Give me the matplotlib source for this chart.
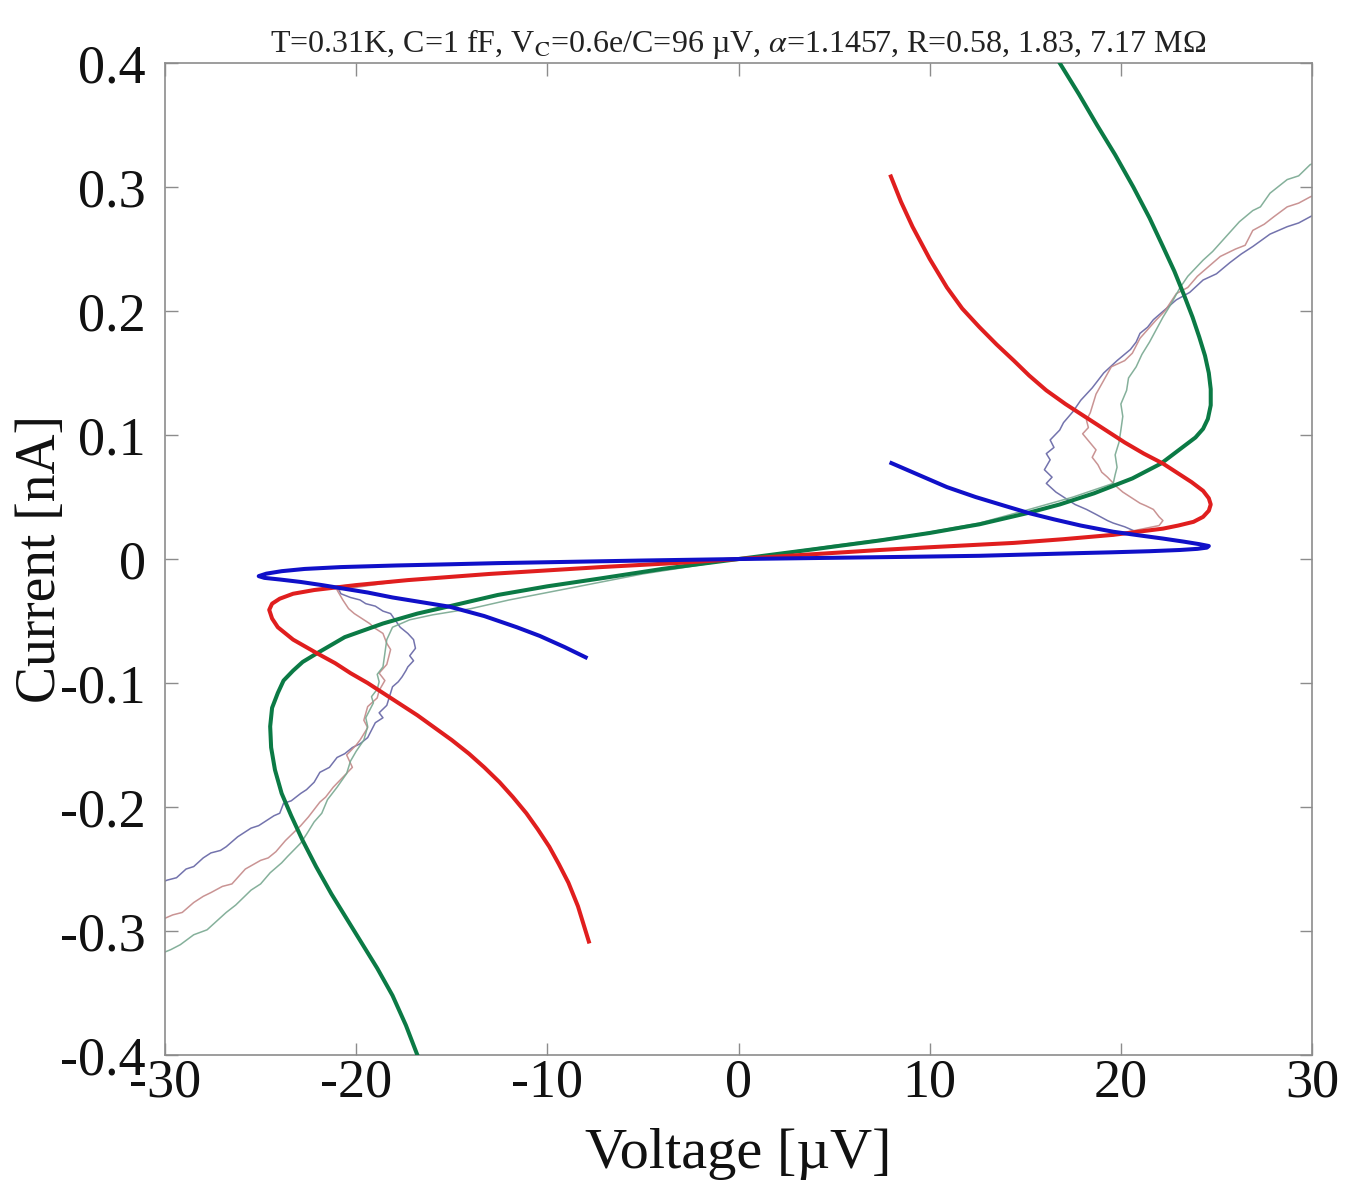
import matplotlib
matplotlib.use("Agg")
import matplotlib.pyplot as plt

plt.rcParams['font.family'] = ['Liberation Serif', 'DejaVu Serif']
plt.rcParams['mathtext.fontset'] = 'stix'

title_text = 'T=0.31K, C=1 fF, V$_{\\rm C}$=0.6e/C=96 µV, $\\alpha$=1.1457, R=0.58, 1.83, 7.17 MΩ'
x_label = 'Voltage [µV]'
y_label = 'Current [nA]'
x_ticks = [-30, -20, -10, 0, 10, 20, 30]
x_tick_labels = ['-30', '-20', '-10', '0', '10', '20', '30']
y_ticks = [-0.4, -0.3, -0.2, -0.1, 0, 0.1, 0.2, 0.3, 0.4]
y_tick_labels = ['-0.4', '-0.3', '-0.2', '-0.1', '0', '0.1', '0.2', '0.3', '0.4']

# ---- thick theory curves (V in µV, I in nA) ----
blue_V = [7.9, 9.4, 10.9, 12.4, 13.9, 15.2, 16.5, 17.9, 19.6, 21.0, 22.2, 23.3, 24.1, 24.6, 24.5,
          24.0, 23.1, 21.5, 19.5, 17.9, 15.0, 12.6, 9.0, 5.0, 0.0, -5.0, -9.3, -12.6, -15.0, -17.9,
          -20.8, -22.7, -23.9, -24.7, -25.1, -24.8, -24.0, -22.9, -21.8, -20.8, -19.4, -18.1,
          -16.7, -15.1, -13.3, -11.6, -10.4, -9.1, -7.9]
blue_I = [0.078, 0.068, 0.058, 0.050, 0.043, 0.037, 0.032, 0.027, 0.022, 0.019, 0.0165, 0.014,
          0.012, 0.0105, 0.0092, 0.0082, 0.0073, 0.0063, 0.0054, 0.0048, 0.0036, 0.0026, 0.0018,
          0.001, 0.0, -0.0012, -0.0024, -0.0033, -0.0042, -0.0052, -0.0065, -0.008, -0.0098,
          -0.0118, -0.0138, -0.0152, -0.0165, -0.0185, -0.021, -0.0235, -0.027, -0.031, -0.0345,
          -0.0385, -0.046, -0.055, -0.062, -0.071, -0.080]

red_V = [7.93, 8.5, 9.1, 10.0, 10.9, 11.7, 12.6, 13.5, 14.4, 15.2, 16.1, 17.1, 18.2, 19.2, 20.2,
         21.2, 22.2, 23.0, 23.7, 24.3, 24.6, 24.7, 24.6, 24.3, 23.8, 23.0, 22.2, 19.6, 17.0, 14.4,
         10.0, 7.4, 3.0, 0.0, -3.0, -7.2, -9.3, -13.0, -17.3, -20.0, -22.2, -23.3, -24.0, -24.4,
         -24.55, -24.4, -24.1, -23.3, -22.05, -21.1, -20.3, -19.4, -18.6, -17.7, -16.8, -15.9,
         -15.0, -14.1, -13.3, -12.5, -11.8, -11.1, -10.5, -9.9, -9.4, -8.9, -8.4, -7.8]
red_I = [0.31, 0.288, 0.268, 0.242, 0.219, 0.202, 0.187, 0.173, 0.160, 0.148, 0.136, 0.125, 0.114,
         0.104, 0.094, 0.085, 0.077, 0.069, 0.062, 0.055, 0.049, 0.044, 0.039, 0.034, 0.030, 0.027,
         0.0245, 0.0195, 0.016, 0.013, 0.0095, 0.0073, 0.003, 0.0, -0.003, -0.0065, -0.0085,
         -0.012, -0.017, -0.021, -0.025, -0.028, -0.032, -0.036, -0.041, -0.048, -0.055, -0.065,
         -0.076, -0.084, -0.092, -0.100, -0.108, -0.117, -0.126, -0.136, -0.146, -0.157, -0.168,
         -0.180, -0.192, -0.205, -0.218, -0.232, -0.246, -0.261, -0.280, -0.310]

green_V = [16.4, 16.8, 17.8, 18.75, 19.7, 20.65, 21.5, 22.2, 22.8, 23.3, 23.75, 24.1, 24.4, 24.6,
           24.7, 24.7, 24.55, 24.3, 23.9, 23.3, 22.1, 20.6, 18.6, 16.8, 15.1, 12.6, 10.0, 7.4, 4.0,
           0.0, -4.0, -7.2, -10.0, -12.6, -15.1, -16.8, -18.6, -20.6, -22.05, -22.8, -23.3, -23.8,
           -24.1, -24.4, -24.5, -24.45, -24.25, -23.9, -23.4, -22.8, -22.1, -21.3, -20.5, -19.7,
           -18.9, -18.1, -17.4, -16.8, -16.5]
green_I = [0.41, 0.400, 0.375, 0.350, 0.326, 0.300, 0.275, 0.252, 0.232, 0.213, 0.195, 0.179,
           0.164, 0.150, 0.137, 0.124, 0.113, 0.105, 0.098, 0.091, 0.077, 0.065, 0.053, 0.044,
           0.037, 0.028, 0.021, 0.015, 0.008, 0.0, -0.008, -0.0156, -0.022, -0.029, -0.038,
           -0.044, -0.052, -0.063, -0.076, -0.083, -0.090, -0.098, -0.108, -0.120, -0.135,
           -0.152, -0.170, -0.189, -0.207, -0.227, -0.248, -0.270, -0.290, -0.310, -0.330,
           -0.352, -0.376, -0.400, -0.41]

# ---- thin measured traces ----
blue_meas_V = [-30.5, -29.9, -29.4, -28.9, -28.5, -28.0, -27.6, -27.1, -26.8, -26.2, -25.5, -25.1,
               -24.7, -24.3, -24.0, -23.8, -23.4, -22.9, -22.6, -22.2, -21.9, -21.4, -21.0, -20.6,
               -20.2, -19.8, -19.4, -19.2, -19.0, -18.6, -18.8, -18.4, -18.1, -17.8, -17.6, -17.4,
               -17.3, -17.0, -17.2, -16.9, -17.0, -17.3, -17.7, -18.2, -18.6, -19.0, -19.5, -19.8,
               -20.3, -20.8, -21.0, -17.3, -13.0, -7.2, 0.0, 7.4, 14.4, 19.6, 20.8, 20.2, 19.6,
               19.3, 18.7, 18.2, 17.6, 17.0, 16.6, 16.1, 16.4, 16.0, 16.3, 16.1, 16.5, 16.3, 16.8,
               17.0, 17.5, 17.9, 18.5, 19.1, 19.8, 20.5, 20.8, 21.0, 21.4, 21.7, 22.3, 22.9, 23.6,
               24.3, 25.0, 25.7, 26.3, 26.9, 27.8, 28.7, 29.3, 29.9, 30.5]
blue_meas_I = [-0.263, -0.259, -0.257, -0.250, -0.248, -0.241, -0.237, -0.235, -0.232, -0.224,
               -0.217, -0.215, -0.211, -0.207, -0.205, -0.197, -0.195, -0.189, -0.186, -0.180,
               -0.172, -0.168, -0.160, -0.157, -0.152, -0.149, -0.144, -0.138, -0.132, -0.128,
               -0.124, -0.118, -0.103, -0.099, -0.095, -0.090, -0.087, -0.082, -0.078, -0.072,
               -0.065, -0.060, -0.055, -0.044, -0.042, -0.038, -0.036, -0.033, -0.031, -0.028,
               -0.022, -0.017, -0.012, -0.0065, 0.0, 0.0073, 0.013, 0.019, 0.022, 0.026, 0.029,
               0.031, 0.036, 0.040, 0.044, 0.050, 0.054, 0.061, 0.066, 0.072, 0.080, 0.085, 0.090,
               0.096, 0.104, 0.110, 0.119, 0.128, 0.138, 0.150, 0.160, 0.169, 0.175, 0.182, 0.187,
               0.193, 0.201, 0.209, 0.215, 0.225, 0.230, 0.239, 0.246, 0.252, 0.262, 0.268, 0.271,
               0.276, 0.281]

red_meas_V = [-30.5, -29.6, -29.1, -28.5, -28.0, -27.6, -27.0, -26.5, -25.8, -25.0, -24.6, -24.2,
              -23.7, -23.3, -22.9, -22.5, -21.9, -21.6, -21.2, -20.7, -20.2, -20.5, -20.0, -19.8,
              -19.4, -19.6, -19.4, -18.9, -18.8, -18.5, -18.8, -18.4, -18.2, -18.4, -18.6, -19.0,
              -19.3, -19.8, -20.1, -20.4, -20.7, -21.0, -17.3, -13.0, -7.2, 0.0, 7.4, 14.4, 19.6,
              22.0, 22.2, 22.0, 21.7, 21.3, 21.0, 20.5, 20.1, 19.8, 19.3, 19.0, 18.8, 18.5, 18.7,
              18.0, 18.3, 18.2, 18.4, 18.5, 18.7, 19.1, 19.5, 20.2, 20.6, 21.0, 21.8, 22.3, 22.9,
              23.5, 24.0, 24.6, 25.2, 26.0, 26.5, 26.9, 27.5, 28.0, 28.7, 29.3, 29.9, 30.5]
red_meas_I = [-0.293, -0.287, -0.285, -0.277, -0.272, -0.269, -0.264, -0.262, -0.250, -0.243,
              -0.241, -0.236, -0.227, -0.221, -0.215, -0.208, -0.196, -0.192, -0.184, -0.176,
              -0.168, -0.158, -0.150, -0.146, -0.136, -0.130, -0.119, -0.112, -0.106, -0.098,
              -0.092, -0.085, -0.073, -0.068, -0.060, -0.056, -0.052, -0.047, -0.044, -0.040,
              -0.033, -0.025, -0.017, -0.012, -0.0065, 0.0, 0.0073, 0.013, 0.0195, 0.027, 0.031,
              0.034, 0.040, 0.043, 0.045, 0.050, 0.054, 0.058, 0.066, 0.070, 0.076, 0.082, 0.088,
              0.101, 0.106, 0.112, 0.118, 0.123, 0.133, 0.144, 0.155, 0.160, 0.166, 0.178, 0.192,
              0.200, 0.214, 0.219, 0.228, 0.236, 0.244, 0.250, 0.253, 0.265, 0.270, 0.276, 0.284,
              0.287, 0.292, 0.296]

green_meas_V = [-30.5, -29.7, -29.2, -28.5, -27.8, -26.8, -26.3, -25.5, -25.0, -24.5, -23.9, -23.6,
                -22.9, -22.6, -22.2, -21.8, -21.5, -21.0, -20.5, -20.3, -20.0, -19.6, -19.4, -19.5,
                -19.3, -19.1, -19.2, -18.9, -18.8, -18.9, -18.6, -18.4, -18.1, -17.2, -16.0, -14.0,
                -12.0, -9.0, -5.0, 0.0, 5.0, 9.0, 12.6, 15.2, 17.5, 19.6, 19.7, 19.8, 19.7, 19.9,
                20.0, 20.1, 20.0, 20.3, 20.4, 20.8, 21.1, 21.5, 22.2, 22.6, 23.1, 23.5, 24.3, 24.8,
                25.5, 26.2, 26.9, 27.3, 27.8, 28.7, 29.3, 29.9, 30.5]
green_meas_I = [-0.320, -0.315, -0.311, -0.303, -0.299, -0.285, -0.279, -0.267, -0.262, -0.253,
                -0.245, -0.240, -0.229, -0.222, -0.212, -0.205, -0.194, -0.184, -0.173, -0.163,
                -0.155, -0.146, -0.135, -0.128, -0.122, -0.116, -0.111, -0.105, -0.099, -0.093,
                -0.087, -0.065, -0.055, -0.049, -0.045, -0.040, -0.033, -0.024, -0.012, 0.0, 0.011,
                0.019, 0.029, 0.040, 0.050, 0.061, 0.068, 0.074, 0.084, 0.094, 0.104, 0.115, 0.125,
                0.136, 0.146, 0.155, 0.165, 0.175, 0.195, 0.205, 0.219, 0.228, 0.241, 0.248, 0.260,
                0.272, 0.281, 0.284, 0.295, 0.306, 0.309, 0.318, 0.322]

fig = plt.figure(figsize=(13.45, 11.82), dpi=100)
ax = fig.add_axes([0.1227, 0.1074, 0.8528, 0.8393])

thin_lw = 1.1
ax.plot(blue_meas_V, blue_meas_I, color='#6464a4', lw=thin_lw, alpha=0.9, zorder=2)
ax.plot(red_meas_V, red_meas_I, color='#c48888', lw=thin_lw, alpha=0.9, zorder=2)
ax.plot(green_meas_V, green_meas_I, color='#78a890', lw=thin_lw, alpha=0.9, zorder=2)

thick_lw = 2.9
ax.plot(green_V, green_I, color='#0b7a45', lw=thick_lw, zorder=3, solid_capstyle='butt',
        solid_joinstyle='round')
ax.plot(red_V, red_I, color='#e01e1e', lw=thick_lw, zorder=4, solid_capstyle='butt',
        solid_joinstyle='round')
ax.plot(blue_V, blue_I, color='#1010c8', lw=thick_lw, zorder=5, solid_capstyle='butt',
        solid_joinstyle='round')

ax.set_xlim(-30, 30)
ax.set_ylim(-0.4, 0.4)
ax.set_xticks(x_ticks)
ax.set_xticklabels(x_tick_labels)
ax.set_yticks(y_ticks)
ax.set_yticklabels(y_tick_labels)

for sp in ax.spines.values():
    sp.set_color('#8c8c8c')
    sp.set_linewidth(1.2)
ax.tick_params(direction='in', length=9, width=1.0, color='#8c8c8c',
               top=True, right=True, labelsize=39, labelcolor='#111111')
ax.tick_params(axis='x', pad=2)
ax.tick_params(axis='y', pad=14)

ax.set_xlabel(x_label, fontsize=42, labelpad=14, color='#111111')
ax.set_ylabel(y_label, fontsize=40, labelpad=-5, color='#111111')
ax.set_title(title_text, fontsize=23, pad=8, color='#222222')

fig.savefig('out.png', dpi=100, facecolor='white')
